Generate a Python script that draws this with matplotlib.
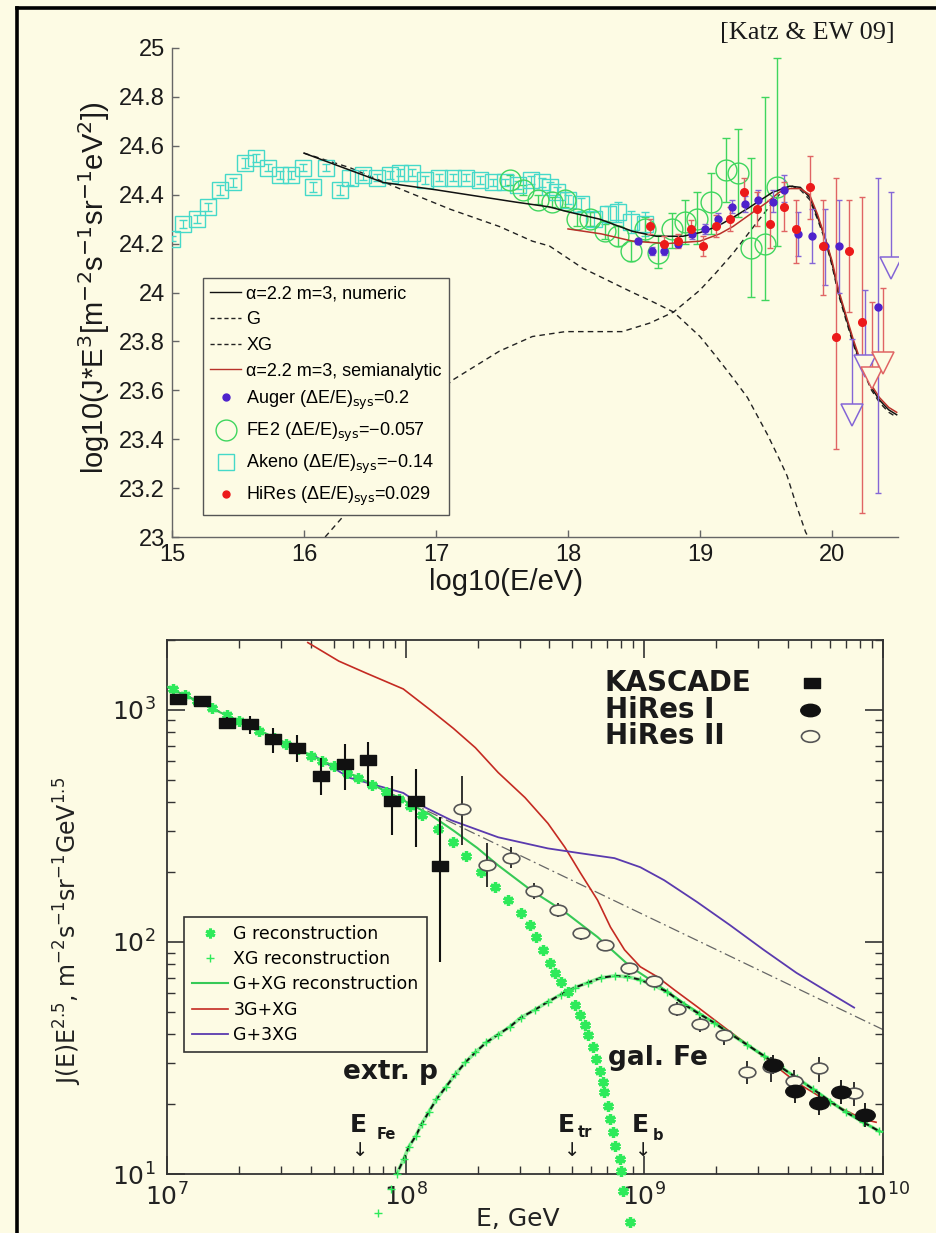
import matplotlib
matplotlib.use("Agg")
import matplotlib.pyplot as plt
import numpy as np
from matplotlib.path import Path
from matplotlib.lines import Line2D
from matplotlib.ticker import FixedLocator, FuncFormatter, LogLocator, NullFormatter

plt.rcParams['mathtext.fontset'] = 'dejavusans'
plt.rcParams['font.family'] = ['Liberation Sans', 'DejaVu Sans']

# ------------------------------------------------------------------
# Upper panel: log10(E/eV) vs log10(J E^3)
# ------------------------------------------------------------------
akeno_lx = [15.00, 15.08, 15.19, 15.27, 15.36, 15.46, 15.55, 15.64, 15.73, 15.82,
            15.90, 15.99, 16.07, 16.17, 16.27, 16.35, 16.45, 16.55, 16.65, 16.73,
            16.82, 16.92, 17.02, 17.13, 17.23, 17.33, 17.43, 17.52, 17.62, 17.72,
            17.80, 17.86, 17.92, 18.00, 18.10, 18.20, 18.30, 18.38, 18.48, 18.58]
akeno_ly = [24.22, 24.28, 24.30, 24.35, 24.42, 24.45, 24.53, 24.55, 24.51, 24.48,
            24.48, 24.51, 24.43, 24.51, 24.42, 24.47, 24.48, 24.47, 24.48, 24.49,
            24.49, 24.46, 24.47, 24.47, 24.47, 24.46, 24.45, 24.45, 24.44, 24.46,
            24.45, 24.43, 24.41, 24.38, 24.36, 24.30, 24.32, 24.33, 24.29, 24.28]
akeno_err = [0.01, 0.015, 0.015, 0.015, 0.02, 0.02, 0.02, 0.015, 0.015, 0.015,
             0.015, 0.015, 0.02, 0.015, 0.02, 0.03, 0.02, 0.015, 0.015, 0.015,
             0.015, 0.015, 0.015, 0.015, 0.015, 0.015, 0.015, 0.015, 0.015, 0.015,
             0.02, 0.02, 0.02, 0.02, 0.025, 0.03, 0.035, 0.04, 0.045, 0.05]

fe2_lx = [17.56, 17.66, 17.77, 17.88, 17.98, 18.07, 18.17, 18.28, 18.38, 18.48,
          18.58, 18.68, 18.79, 18.89, 18.98, 19.08, 19.20, 19.29, 19.39, 19.49, 19.58]
fe2_ly = [24.46, 24.42, 24.38, 24.37, 24.38, 24.30, 24.30, 24.25, 24.23, 24.17,
          24.26, 24.16, 24.26, 24.29, 24.30, 24.37, 24.50, 24.49, 24.18, 24.20, 24.43]
fe2_lo = [0.02, 0.02, 0.02, 0.02, 0.03, 0.03, 0.03, 0.03, 0.04, 0.04,
          0.05, 0.06, 0.08, 0.09, 0.10, 0.13, 0.13, 0.18, 0.20, 0.23, 0.24]
fe2_hi = [0.02, 0.02, 0.02, 0.02, 0.03, 0.03, 0.03, 0.03, 0.04, 0.04,
          0.05, 0.075, 0.065, 0.09, 0.11, 0.12, 0.13, 0.18, 0.37, 0.60, 0.53]

auger_lx = [18.53, 18.64, 18.73, 18.83, 18.94, 19.04, 19.14, 19.24, 19.34, 19.44,
            19.55, 19.64, 19.74, 19.85, 19.95, 20.05, 20.35]
auger_ly = [24.21, 24.17, 24.17, 24.20, 24.24, 24.26, 24.30, 24.35, 24.36, 24.38,
            24.37, 24.42, 24.24, 24.23, 24.19, 24.19, 23.94]
auger_lo = [0.01, 0.015, 0.015, 0.015, 0.02, 0.02, 0.02, 0.025, 0.03, 0.035,
            0.04, 0.05, 0.09, 0.11, 0.16, 0.19, 0.76]
auger_hi = [0.01, 0.015, 0.015, 0.015, 0.02, 0.02, 0.025, 0.03, 0.035, 0.04,
            0.05, 0.06, 0.09, 0.11, 0.15, 0.19, 0.53]
auger_lim_lx = [20.15, 20.25, 20.45]
auger_lim_ly = [23.50, 23.70, 24.10]
auger_lim_top = [23.81, 24.01, 24.41]

hires_lx = [18.62, 18.73, 18.83, 18.93, 19.02, 19.12, 19.23, 19.33, 19.43, 19.53,
            19.64, 19.73, 19.83, 19.93, 20.03, 20.13, 20.23]
hires_ly = [24.27, 24.20, 24.21, 24.26, 24.19, 24.27, 24.30, 24.41, 24.34, 24.28,
            24.35, 24.26, 24.43, 24.19, 23.82, 24.17, 23.88]
hires_lo = [0.03, 0.03, 0.03, 0.035, 0.04, 0.045, 0.05, 0.055, 0.07, 0.10,
            0.10, 0.14, 0.13, 0.20, 0.46, 0.25, 0.78]
hires_hi = [0.03, 0.03, 0.03, 0.035, 0.04, 0.045, 0.05, 0.06, 0.07, 0.10,
            0.10, 0.12, 0.13, 0.19, 0.65, 0.21, 0.51]
hires_lim_lx = [20.30, 20.39]
hires_lim_ly = [23.65, 23.71]
hires_lim_top = [23.96, 24.02]

numeric_lx = [16.00, 16.30, 16.60, 17.00, 17.36, 17.60, 17.86, 18.00, 18.24, 18.49,
              18.67, 18.87, 19.00, 19.13, 19.26, 19.38, 19.55, 19.68, 19.76, 19.83,
              19.89, 19.95, 20.00, 20.05, 20.11, 20.16, 20.21, 20.30, 20.36, 20.43, 20.49]
numeric_ly = [24.57, 24.51, 24.45, 24.42, 24.39, 24.37, 24.35, 24.33, 24.30, 24.25,
              24.23, 24.23, 24.245, 24.27, 24.31, 24.35, 24.41, 24.435, 24.43, 24.39,
              24.31, 24.22, 24.12, 24.00, 23.89, 23.80, 23.72, 23.61, 23.56, 23.52, 23.50]

semi_lx = [18.00, 18.25, 18.49, 18.75, 19.00, 19.15, 19.25, 19.38, 19.51, 19.60,
           19.68, 19.76, 19.83, 19.89, 19.95, 20.00, 20.05, 20.11, 20.16, 20.21,
           20.30, 20.36, 20.43, 20.49]
semi_ly = [24.26, 24.24, 24.21, 24.20, 24.21, 24.24, 24.27, 24.32, 24.37, 24.41,
           24.425, 24.425, 24.40, 24.32, 24.22, 24.13, 24.01, 23.90, 23.81, 23.73,
           23.62, 23.57, 23.53, 23.51]

g_lx = [16.00, 16.35, 16.70, 17.11, 17.48, 17.73, 17.86, 18.11, 18.30, 18.49,
        18.65, 18.80, 19.00, 19.12, 19.25, 19.36, 19.51, 19.60, 19.66, 19.73, 19.80, 19.82]
g_ly = [24.57, 24.51, 24.43, 24.34, 24.27, 24.21, 24.19, 24.10, 24.05, 24.00,
        23.96, 23.92, 23.82, 23.74, 23.65, 23.57, 23.42, 23.32, 23.25, 23.13, 23.02, 23.00]

xg_lx = [16.16, 16.29, 16.50, 16.80, 17.12, 17.48, 17.73, 17.98, 18.20, 18.41,
         18.62, 18.80, 19.00, 19.12, 19.25, 19.45, 19.63, 19.70, 19.76, 19.83,
         19.89, 19.95, 20.00, 20.05, 20.11, 20.16, 20.21, 20.30, 20.36, 20.43, 20.49]
xg_ly = [23.00, 23.08, 23.27, 23.47, 23.64, 23.76, 23.82, 23.84, 23.84, 23.84,
         23.875, 23.92, 24.01, 24.08, 24.16, 24.30, 24.42, 24.435, 24.42, 24.38,
         24.30, 24.21, 24.11, 23.99, 23.88, 23.79, 23.71, 23.60, 23.55, 23.51, 23.49]

top_xticks = [15, 16, 17, 18, 19, 20]
top_yticks = [23, 23.2, 23.4, 23.6, 23.8, 24, 24.2, 24.4, 24.6, 24.8, 25]

# ------------------------------------------------------------------
# Lower panel: E [GeV] vs J(E) E^2.5
# ------------------------------------------------------------------
kascade_E = [1.11e7, 1.40e7, 1.78e7, 2.22e7, 2.79e7, 3.51e7, 4.42e7, 5.57e7,
             6.95e7, 8.75e7, 1.10e8, 1.39e8]
kascade_J = [1115, 1093, 880, 871, 752, 687, 521, 586, 610, 403, 406, 212]
kascade_lo = [1060, 1040, 830, 789, 654, 598, 428, 453, 470, 288, 256, 82]
kascade_hi = [1170, 1150, 935, 942, 837, 781, 622, 714, 730, 521, 558, 344]

hires2_E = [1.73e8, 2.20e8, 2.77e8, 3.44e8, 4.34e8, 5.41e8, 6.81e8, 8.65e8, 1.10e9,
            1.37e9, 1.71e9, 2.15e9, 2.69e9, 3.38e9, 4.25e9, 5.41e9, 7.57e9]
hires2_J = [373, 214, 230, 166, 137, 109, 97, 77, 68, 51.5, 44.5, 39.9, 27.4, 28.8,
            25.1, 28.5, 22.3]
hires2_lo = [261, 172, 208, 153, 128, 102, 93, 72, 65, 48, 41, 36, 24.5, 25, 22.5, 24.8, 19.6]
hires2_hi = [521, 266, 256, 179, 147, 115, 101, 80.8, 71, 55, 47.4, 42, 30.6, 32, 28, 32, 24.8]

hires1_E = [3.45e9, 4.26e9, 5.41e9, 6.69e9, 8.41e9]
hires1_J = [29.6, 22.7, 20.2, 22.5, 17.9]
hires1_lo = [27, 20.3, 18, 20, 15.9]
hires1_hi = [32.5, 25.3, 22.6, 25.5, 20.2]

# log10 E, log10 J for the reconstructed components
grec_lx = [7.025, 7.075, 7.125, 7.1875, 7.25, 7.30, 7.3875, 7.45, 7.50, 7.55,
           7.604, 7.65, 7.70, 7.754, 7.80, 7.858, 7.917, 7.971, 8.02, 8.067,
           8.1375, 8.20, 8.254, 8.317, 8.375, 8.43, 8.483, 8.521, 8.546, 8.575,
           8.604, 8.625, 8.65, 8.679, 8.708, 8.729, 8.75, 8.7625, 8.783, 8.796,
           8.8125, 8.825, 8.833, 8.846, 8.858, 8.867, 8.879, 8.896, 8.904, 8.9125, 8.942]
grec_ly = [3.090, 3.064, 3.040, 3.009, 2.978, 2.953, 2.910, 2.879, 2.855, 2.830,
           2.803, 2.781, 2.757, 2.730, 2.706, 2.675, 2.645, 2.615, 2.585, 2.545,
           2.488, 2.430, 2.370, 2.300, 2.236, 2.180, 2.124, 2.073, 2.021, 1.966,
           1.910, 1.867, 1.828, 1.785, 1.730, 1.687, 1.644, 1.601, 1.549, 1.494,
           1.442, 1.395, 1.352, 1.292, 1.236, 1.180, 1.120, 1.064, 1.013, 0.927, 0.794]

xgrec_lx = [7.883, 7.9375, 7.9625, 7.992, 8.0125, 8.042, 8.067, 8.096, 8.129, 8.167,
            8.208, 8.25, 8.292, 8.3375, 8.3875, 8.4375, 8.483, 8.542, 8.596, 8.65,
            8.708, 8.7625, 8.817, 8.875, 8.929, 8.983, 9.042, 9.096, 9.167, 9.23,
            9.292, 9.36, 9.429, 9.50, 9.567, 9.64, 9.708, 9.78, 9.846, 9.917, 9.983]
xgrec_ly = [0.833, 0.936, 1.000, 1.064, 1.116, 1.163, 1.215, 1.266, 1.322, 1.373,
            1.429, 1.481, 1.524, 1.567, 1.601, 1.635, 1.674, 1.708, 1.742, 1.773,
            1.803, 1.824, 1.845, 1.854, 1.850, 1.837, 1.811, 1.785, 1.730, 1.690,
            1.652, 1.604, 1.558, 1.510, 1.464, 1.413, 1.365, 1.312, 1.266, 1.223, 1.185]

gxg_lx = [7.0, 7.2, 7.4, 7.6, 7.8, 8.0, 8.1, 8.2, 8.3, 8.3875, 8.525, 8.667, 8.804,
          8.942, 9.042, 9.167, 9.292, 9.429, 9.567, 9.708, 9.846, 9.983, 10.0]
gxg_ly = [3.100, 3.000, 2.905, 2.805, 2.710, 2.605, 2.550, 2.480, 2.405, 2.330,
          2.223, 2.129, 2.021, 1.893, 1.825, 1.735, 1.652, 1.558, 1.464, 1.365,
          1.266, 1.185, 1.180]

g3xg_lx = [7.59, 7.72, 7.833, 7.99, 8.108, 8.20, 8.292, 8.3875, 8.5, 8.596, 8.667,
           8.733, 8.804, 8.858, 8.917, 8.983, 9.054, 9.125, 9.221, 9.358, 9.5, 9.637,
           9.775, 9.917, 9.971]
g3xg_ly = [3.290, 3.210, 3.159, 3.090, 2.996, 2.920, 2.837, 2.730, 2.622, 2.511, 2.408,
           2.296, 2.180, 2.064, 1.966, 1.893, 1.850, 1.794, 1.721, 1.614, 1.506, 1.395,
           1.309, 1.236, 1.223]

g_3xg_lx = [7.604, 7.7625, 7.99, 8.083, 8.192, 8.3875, 8.596, 8.733, 8.875, 8.983,
            9.083, 9.221, 9.358, 9.5, 9.637, 9.775, 9.879]
g_3xg_ly = [2.811, 2.708, 2.642, 2.579, 2.524, 2.451, 2.403, 2.382, 2.361, 2.322,
            2.266, 2.172, 2.073, 1.966, 1.867, 1.781, 1.717]

powerlaw_E = [1e7, 1e10]
powerlaw_J = [1267, 41.9]

# ------------------------------------------------------------------
BG = '#FDFBE4'
W, H = 937, 1233
C_AKENO = '#45D9C9'
C_FE2 = '#3FD65E'
C_AUGER = '#4E22CC'
C_AUGER_E = '#8466D6'
C_HIRES = '#EC1A1A'
C_HIRES_E = '#E06464'
C_SEMI = '#B8312A'
C_GREC = '#2EEA5A'
C_GXG = '#36C956'
C_RED = '#C42A22'
C_PURPLE = '#5A3AAE'


def fx(px):
    return px / W


def fy(py):
    return 1 - py / H


fig = plt.figure(figsize=(W / 100, H / 100), dpi=100, facecolor=BG)

# outer frame
fig.add_artist(Line2D([fx(17), fx(17)], [0, fy(8)], color='black', lw=2.6,
                      transform=fig.transFigure))
fig.add_artist(Line2D([fx(17), 1], [fy(8), fy(8)], color='black', lw=2.6,
                      transform=fig.transFigure))

# ================= upper panel =================
ax1 = fig.add_axes([fx(172), fy(537), (898 - 172) / W, (537 - 48) / H])
ax1.set_facecolor(BG)
ax1.patch.set_alpha(0)
ax1.set_xlim(15, 20.5)
ax1.set_ylim(23, 25)
for s in ('top', 'right'):
    ax1.spines[s].set_visible(False)
for s in ('left', 'bottom'):
    ax1.spines[s].set_color('#666666')
    ax1.spines[s].set_linewidth(1.0)
ax1.xaxis.set_major_locator(FixedLocator(top_xticks))
ax1.yaxis.set_major_locator(FixedLocator(top_yticks))
ax1.xaxis.set_major_formatter(FuncFormatter(lambda v, p: f'{v:g}'))
ax1.yaxis.set_major_formatter(FuncFormatter(lambda v, p: f'{v:g}'))
ax1.tick_params(direction='in', length=5, width=1, color='#666666',
                labelsize=17, labelcolor='#1a1a1a', pad=5)

dash = (0, (4, 3))
ax1.plot(g_lx, g_ly, color='#222222', lw=1.0, ls=dash, zorder=2)
ax1.plot(xg_lx, xg_ly, color='#222222', lw=1.0, ls=dash, zorder=2)

ax1.errorbar(akeno_lx, akeno_ly, yerr=akeno_err, fmt='s', ms=11, mfc='none',
             mec=C_AKENO, mew=1.0, ecolor=C_AKENO, elinewidth=0.9, capsize=3, zorder=3)
ax1.errorbar(fe2_lx, fe2_ly, yerr=[fe2_lo, fe2_hi], fmt='o', ms=15, mfc='none',
             mec=C_FE2, mew=1.0, ecolor=C_FE2, elinewidth=1.0, capsize=3, zorder=3)

ax1.plot(numeric_lx, numeric_ly, color='#111111', lw=1.1, zorder=4)
ax1.plot(semi_lx, semi_ly, color=C_SEMI, lw=1.1, zorder=4)

ax1.errorbar(auger_lx, auger_ly, yerr=[auger_lo, auger_hi], fmt='o', ms=5,
             color=C_AUGER, ecolor=C_AUGER_E, elinewidth=1.0, capsize=2.5, zorder=5)
ax1.errorbar(hires_lx, hires_ly, yerr=[hires_lo, hires_hi], fmt='o', ms=5.5,
             color=C_HIRES, ecolor=C_HIRES_E, elinewidth=1.0, capsize=2.5, zorder=5)

for lx, ly, top, col in ((auger_lim_lx, auger_lim_ly, auger_lim_top, C_AUGER_E),
                         (hires_lim_lx, hires_lim_ly, hires_lim_top, C_HIRES_E)):
    ax1.vlines(lx, ly, top, color=col, lw=1.0, zorder=5)
    ax1.plot(lx, top, ls='none', marker='_', ms=5, mew=1.0, color=col, zorder=5)
    ax1.plot(lx, ly, ls='none', marker='v', ms=16, mfc=BG, mec=col, mew=1.1, zorder=6)

ax1.set_xlabel('log10(E/eV)', fontsize=21, color='#1a1a1a')
ax1.xaxis.set_label_coords(0.46, -0.064)
ax1.set_ylabel(r'log10(J*E$^3$[m$^{-2}$s$^{-1}$sr$^{-1}$eV$^2$])', fontsize=21,
               color='#1a1a1a')
ax1.yaxis.set_label_coords(-0.083, 0.51)

top_handles = [
    Line2D([], [], color='#111111', lw=1.0),
    Line2D([], [], color='#222222', lw=1.0, ls=(0, (3, 2))),
    Line2D([], [], color='#222222', lw=1.0, ls=(0, (3, 2))),
    Line2D([], [], color=C_SEMI, lw=1.0),
    Line2D([], [], ls='none', marker='o', ms=5, color=C_AUGER),
    Line2D([], [], ls='none', marker='o', ms=15, mfc='none', mec=C_FE2, mew=1.0),
    Line2D([], [], ls='none', marker='s', ms=11, mfc='none', mec=C_AKENO, mew=1.0),
    Line2D([], [], ls='none', marker='o', ms=5, color=C_HIRES),
]
top_labels = [
    'α=2.2 m=3, numeric',
    'G',
    'XG',
    'α=2.2 m=3, semianalytic',
    r'Auger (ΔE/E)$_{\mathrm{sys}}$=0.2',
    r'FE2 (ΔE/E)$_{\mathrm{sys}}$=−0.057',
    r'Akeno (ΔE/E)$_{\mathrm{sys}}$=−0.14',
    r'HiRes (ΔE/E)$_{\mathrm{sys}}$=0.029',
]
leg1 = ax1.legend(top_handles, top_labels, loc='upper left',
                  bbox_to_anchor=(0.0427, 0.5297), borderaxespad=0,
                  prop={'family': ['Liberation Sans', 'DejaVu Sans'], 'size': 13},
                  frameon=True, fancybox=False, edgecolor='#555555', facecolor=BG,
                  framealpha=1, borderpad=0.4, handlelength=1.7, handletextpad=0.3,
                  labelspacing=0.49)
leg1.get_frame().set_linewidth(1.0)

fig.text(fx(720), fy(33), '[Katz & EW 09]', family='Liberation Serif', fontsize=19,
         color='#1a1a1a', ha='left', va='center')

# ================= lower panel =================
ax2 = fig.add_axes([fx(167), fy(1174), (883 - 167) / W, (1174 - 640) / H])
ax2.set_facecolor(BG)
ax2.set_xscale('log')
ax2.set_yscale('log')
ax2.set_xlim(1e7, 1e10)
ax2.set_ylim(10, 2000)
for s in ax2.spines.values():
    s.set_color('#333333')
    s.set_linewidth(1.3)
ax2.xaxis.set_major_locator(LogLocator(base=10, numticks=10))
ax2.yaxis.set_major_locator(LogLocator(base=10, numticks=10))
ax2.xaxis.set_minor_locator(LogLocator(base=10, subs=range(2, 10), numticks=20))
ax2.yaxis.set_minor_locator(LogLocator(base=10, subs=range(2, 10), numticks=20))
ax2.xaxis.set_minor_formatter(NullFormatter())
ax2.yaxis.set_minor_formatter(NullFormatter())
sci = FuncFormatter(lambda v, p: r'$10^{%d}$' % round(np.log10(v)))
ax2.xaxis.set_major_formatter(sci)
ax2.yaxis.set_major_formatter(sci)
ax2.tick_params(which='both', direction='in', top=True, right=True, color='#333333',
                labelcolor='#222222', labelsize=18)
ax2.tick_params(which='major', length=13, width=1.2)
ax2.tick_params(which='minor', length=6, width=1.0)
ax2.tick_params(axis='x', pad=7)
ax2.tick_params(axis='y', pad=8)
for lab in ax2.get_xticklabels() + ax2.get_yticklabels():
    lab.set_family('DejaVu Sans')

ax2.plot(powerlaw_E, powerlaw_J, color='#666666', lw=0.9, ls=(0, (9, 3, 1.5, 3)), zorder=2)
ax2.plot(10 ** np.array(g3xg_lx), 10 ** np.array(g3xg_ly), color=C_RED, lw=1.2, zorder=3)
ax2.plot(10 ** np.array(g_3xg_lx), 10 ** np.array(g_3xg_ly), color=C_PURPLE, lw=1.3, zorder=3)
ax2.plot(10 ** np.array(gxg_lx), 10 ** np.array(gxg_ly), color=C_GXG, lw=1.5, zorder=3)

xg_E = 10 ** np.array(xgrec_lx)
xg_J = 10 ** np.array(xgrec_ly)
ax2.plot(xg_E, xg_J, color=C_GREC, lw=2.6, alpha=0.55, zorder=3)
ax2.plot(xg_E, xg_J, color='#111111', lw=1.4, ls=(0, (3, 2)), zorder=4)
ax2.plot(xg_E, xg_J, ls='none', marker='+', ms=6, mew=1.0, color=C_GREC,
         clip_on=False, zorder=5)
ax2.plot(10 ** np.array(grec_lx), 10 ** np.array(grec_ly), ls='none', marker=(6, 2, 0),
         ms=7.5, mew=2.4, color=C_GREC, clip_on=False, zorder=5)

rect_marker = Path([(-1, -0.62), (1, -0.62), (1, 0.62), (-1, 0.62), (-1, -0.62)],
                   [Path.MOVETO, Path.LINETO, Path.LINETO, Path.LINETO, Path.CLOSEPOLY])
circ = Path.unit_circle()
ellipse_marker = Path(circ.vertices * np.array([1.0, 0.64]), circ.codes)

kE = np.array(kascade_E)
kJ = np.array(kascade_J)
ax2.errorbar(kE, kJ, yerr=[kJ - np.array(kascade_lo), np.array(kascade_hi) - kJ],
             fmt='none', ecolor='#111111', elinewidth=1.5, capsize=0, zorder=6)
ax2.plot(kE, kJ, ls='none', marker=rect_marker, ms=12, color='#111111', zorder=7)

h2E = np.array(hires2_E)
h2J = np.array(hires2_J)
ax2.errorbar(h2E, h2J, yerr=[h2J - np.array(hires2_lo), np.array(hires2_hi) - h2J],
             fmt='none', ecolor='#222222', elinewidth=1.3, capsize=0, zorder=6)
ax2.plot(h2E, h2J, ls='none', marker=ellipse_marker, ms=12, mfc=BG, mec='#555555',
         mew=1.2, zorder=7)

h1E = np.array(hires1_E)
h1J = np.array(hires1_J)
ax2.errorbar(h1E, h1J, yerr=[h1J - np.array(hires1_lo), np.array(hires1_hi) - h1J],
             fmt='none', ecolor='#111111', elinewidth=1.3, capsize=0, zorder=6)
ax2.plot(h1E, h1J, ls='none', marker=ellipse_marker, ms=14, color='#111111', zorder=7)

ax2.set_xlabel('E, GeV', fontsize=18, family='DejaVu Sans', color='#222222')
ax2.xaxis.set_label_coords(0.49, -0.062)
ax2.set_ylabel(r'J(E)E$^{2.5}$, m$^{-2}$s$^{-1}$sr$^{-1}$GeV$^{1.5}$', fontsize=17,
               family='DejaVu Sans', color='#222222')
ax2.yaxis.set_label_coords(-0.116, 0.455)

bot_handles = [
    Line2D([], [], ls='none', marker=(6, 2, 0), ms=7, mew=2.2, color=C_GREC),
    Line2D([], [], ls='none', marker='+', ms=6, mew=1.0, color=C_GREC),
    Line2D([], [], color=C_GXG, lw=1.5),
    Line2D([], [], color=C_RED, lw=1.2),
    Line2D([], [], color=C_PURPLE, lw=1.3),
]
bot_labels = ['G reconstruction', 'XG reconstruction', 'G+XG reconstruction',
              '3G+XG', 'G+3XG']
leg2 = ax2.legend(bot_handles, bot_labels, loc='upper left',
                  bbox_to_anchor=(0.0237, 0.4813), borderaxespad=0,
                  prop={'family': 'DejaVu Sans', 'size': 12.5},
                  frameon=True, fancybox=False, edgecolor='#333333', facecolor=BG,
                  framealpha=1, borderpad=0.45, handlelength=2.1, handletextpad=0.3,
                  labelspacing=0.42)
leg2.get_frame().set_linewidth(1.2)

# experiment key
bold = dict(family='DejaVu Sans', weight='bold', color='#1a1a1a', ha='left')
fig.text(fx(605), fy(683), 'KASCADE', fontsize=20, va='center', **bold)
fig.text(fx(605), fy(710), 'HiRes I', fontsize=20, va='center', **bold)
fig.text(fx(605), fy(736), 'HiRes II', fontsize=20, va='center', **bold)
fig.add_artist(Line2D([fx(812)], [fy(683)], marker=rect_marker, ms=11, ls='none',
                      color='#111111', transform=fig.transFigure))
fig.add_artist(Line2D([fx(810)], [fy(710)], marker=ellipse_marker, ms=14, ls='none',
                      color='#111111', transform=fig.transFigure))
fig.add_artist(Line2D([fx(810)], [fy(736)], marker=ellipse_marker, ms=13, ls='none',
                      mfc=BG, mec='#555555', mew=1.2, transform=fig.transFigure))

# component and energy annotations
fig.text(fx(343), fy(1079), 'extr. p', fontsize=19, va='baseline', **bold)
fig.text(fx(608), fy(1065), 'gal. Fe', fontsize=19, va='baseline', **bold)
for ex, sub_txt, sx, sub_y, ax_x in ((350, 'Fe', 377, 1139, 360),
                                     (558, 'tr', 578, 1137, 572),
                                     (632, 'b', 653, 1140, 643)):
    fig.text(fx(ex), fy(1132), 'E', fontsize=18, va='baseline', **bold)
    fig.text(fx(sx), fy(sub_y), sub_txt, fontsize=10.5, va='baseline', **bold)
    fig.text(fx(ax_x), fy(1151), '↓', fontsize=14, family='DejaVu Sans',
             color='#1a1a1a', ha='center', va='center')

fig.savefig('out.png', dpi=100, facecolor=BG)
